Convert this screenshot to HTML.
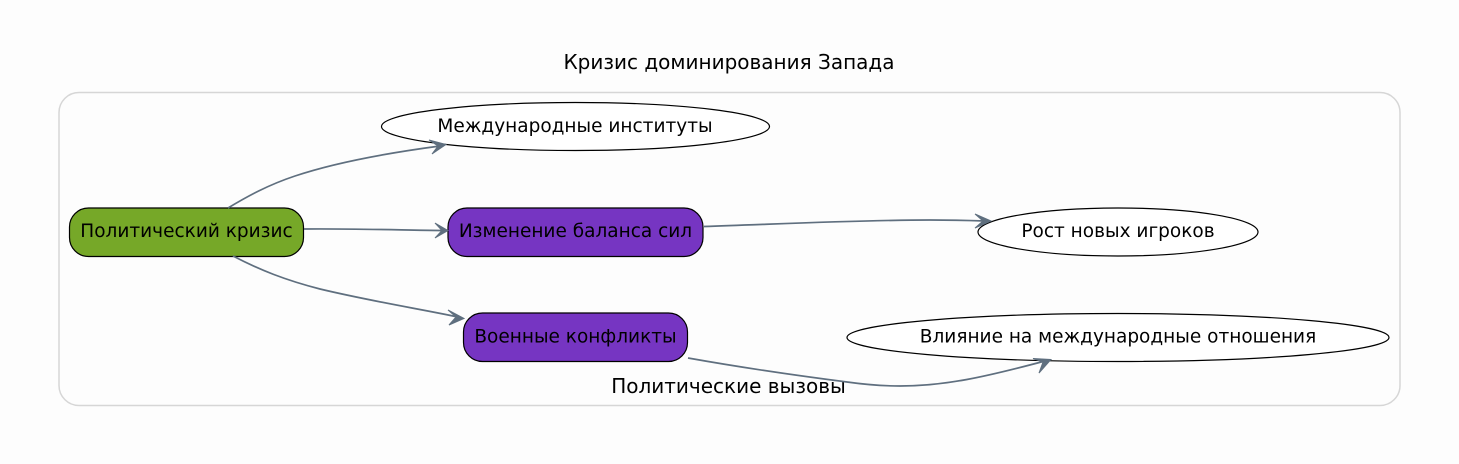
<!DOCTYPE html>
<html><head><meta charset="utf-8"><style>
html,body{margin:0;padding:0;background:#fdfdfd;width:1459px;height:464px;overflow:hidden}
svg{display:block}
text{font-family:"DejaVu Sans",sans-serif;font-size:18.5px;fill:#000;text-anchor:middle}
text.b{font-size:20px}
.e{fill:none;stroke:#5f6f7f;stroke-width:1.7}
.a{fill:#5f6f7f;stroke:#5f6f7f;stroke-width:1;stroke-linejoin:miter}
</style></head><body>
<svg width="1459" height="464" viewBox="0 0 1459 464" xmlns="http://www.w3.org/2000/svg">
<rect width="1459" height="464" fill="#fdfdfd"/>
<text class="b" x="729" y="69">Кризис доминирования Запада</text>
<rect x="59" y="92.500" width="1341" height="313" rx="20" fill="#fdfdfd" stroke="#d6d6d6" stroke-width="1.500"/>
<text class="b" x="728.500" y="393">Политические вызовы</text>
<ellipse cx="575.500" cy="126.500" rx="194" ry="24" fill="#fff" stroke="#000" stroke-width="1.200"/>
<ellipse cx="1118" cy="232" rx="140" ry="24" fill="#fff" stroke="#000" stroke-width="1.200"/>
<ellipse cx="1118" cy="337.500" rx="271" ry="24" fill="#fff" stroke="#000" stroke-width="1.200"/>
<rect x="69.500" y="208" width="234" height="48.500" rx="19" fill="#76a828" stroke="#000" stroke-width="1.200"/>
<rect x="448" y="208" width="255" height="48.500" rx="19" fill="#7635c2" stroke="#000" stroke-width="1.200"/>
<rect x="463.500" y="313" width="224" height="48.500" rx="19" fill="#7635c2" stroke="#000" stroke-width="1.200"/>
<path class="e" d="M228 208C248 196 268 185 295 176C340 161 395 152 440 146"/>
<polygon class="a" points="446,144.500 429,140 438,146 432,154"/>
<path class="e" d="M304 229C350 228.500 400 230 442 230.500"/>
<polygon class="a" points="448,230.500 435,223 442,230.500 435,238"/>
<path class="e" d="M233 256C260 270 285 280 320 289C370 301 420 309 458 317"/>
<polygon class="a" points="464,318.500 448,310 456,317 449,325"/>
<path class="e" d="M704 226.500C780 224 860 220 930 220C950 220 970 220.500 985 221"/>
<polygon class="a" points="991,221 975,214 983,221 975,228"/>
<path class="e" d="M688 358C750 369 800 376 847 382C865 384.500 880 386 900 386C945 386 985 377 1045 361"/>
<polygon class="a" points="1051,359.500 1033,358.500 1043,362 1039,373"/>
<text x="186.500" y="237">Политический кризис</text>
<text x="575.500" y="237">Изменение баланса сил</text>
<text x="575.500" y="342.500">Военные конфликты</text>
<text x="575" y="132">Международные институты</text>
<text x="1118" y="237">Рост новых игроков</text>
<text x="1118" y="342.500">Влияние на международные отношения</text>
</svg>
</body></html>
